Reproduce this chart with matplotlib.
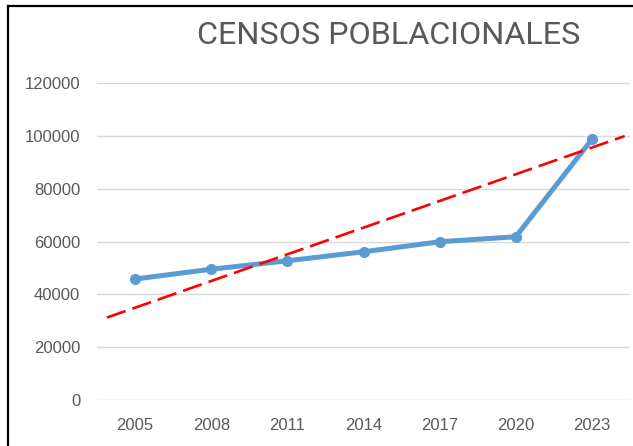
import matplotlib
matplotlib.use("Agg")
import matplotlib.pyplot as plt
from matplotlib.lines import Line2D

# Census data
years = ["2005", "2008", "2011", "2014", "2017", "2020", "2023"]
population = [45800, 49500, 52700, 56100, 59900, 61800, 98700]

# Linear trend line (start/end positions in category units and values)
trend_x = [-0.37, 6.43]
trend_y = [31200, 99900]

y_ticks = [0, 20000, 40000, 60000, 80000, 100000, 120000]

W, H = 633, 446
fig = plt.figure(figsize=(W / 100, H / 100), dpi=100)
fig.patch.set_facecolor("white")

ax = fig.add_axes([97 / W, 1 - 400 / H, (630 - 97) / W, (400 - 83) / H])

x = list(range(len(years)))
ax.plot(x, population, color="#5b9bd5", linewidth=3.6, marker="o",
        markersize=7, solid_capstyle="round", solid_joinstyle="round", zorder=3)
ax.plot(trend_x, trend_y, color="#ff0000", linewidth=1.9,
        dashes=(7.5, 2.7), zorder=4)

ax.set_xlim(-0.5, len(years) - 0.5)
ax.set_ylim(0, 120000)
ax.set_xticks(x)
ax.set_xticklabels(years)
ax.set_yticks(y_ticks)
ax.set_yticklabels([str(v) for v in y_ticks])

for s in ax.spines.values():
    s.set_visible(False)
ax.yaxis.grid(True, color="#d9d9d9", linewidth=1.0)
ax.set_axisbelow(True)
ax.tick_params(axis="both", length=0, labelsize=12, labelcolor="#595959")
ax.tick_params(axis="y", pad=12)
ax.tick_params(axis="x", pad=13)
for lab in ax.get_xticklabels() + ax.get_yticklabels():
    lab.set_fontfamily("Liberation Sans")

fig.text(389 / W, 1 - 35.7 / H, "CENSOS POBLACIONALES", ha="center", va="center",
         fontsize=23.3, color="#595959", family="Roboto")

# Outer frame (top and left edges)
fig.add_artist(Line2D([8 / W, 1.0], [1 - 6 / H, 1 - 6 / H], transform=fig.transFigure,
                      color="black", linewidth=1.6))
fig.add_artist(Line2D([8 / W, 8 / W], [0, 1 - 6 / H], transform=fig.transFigure,
                      color="black", linewidth=1.6))

fig.savefig("out.png", dpi=100)
